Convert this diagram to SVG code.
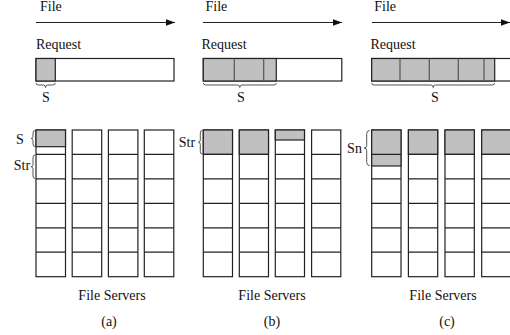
<svg xmlns="http://www.w3.org/2000/svg" width="510" height="335" viewBox="0 0 510 335">
<defs>
<marker id="ah" markerWidth="10" markerHeight="8" refX="9" refY="4" orient="auto" markerUnits="userSpaceOnUse">
<path d="M0,0.8 L9,4 L0,7.2 Z" fill="#111"/>
</marker>
<style>
text{font-family:"Liberation Serif","Times New Roman",serif;font-size:14px;fill:#111}
.mid{text-anchor:middle}
.cell{fill:#fff;stroke:#222;stroke-width:1.2}
.g{fill:#c0c0c0;stroke:#222;stroke-width:1.2}
.div{stroke:#555;stroke-width:1.2;fill:none}
.brace{fill:none;stroke:#555;stroke-width:1}
.arr{stroke:#222;stroke-width:1.2;fill:none}
</style>
</defs>
<rect width="510" height="335" fill="#fff"/>

<g id="connectors">
<line class="arr" x1="36" y1="22.5" x2="175" y2="22.5" marker-end="url(#ah)"/>
<line class="arr" x1="203" y1="22.5" x2="342" y2="22.5" marker-end="url(#ah)"/>
<line class="arr" x1="372" y1="22.5" x2="510" y2="22.5" marker-end="url(#ah)"/>
</g>

<!-- Panel (a) -->
<g id="panel-a">
<text x="40" y="11">File</text>
<text x="36" y="49">Request</text>
<rect class="cell" x="36" y="58.5" width="138" height="22.5"/>
<rect class="g" x="36" y="58.5" width="19.3" height="22.5"/>
<path class="brace" d="M36,83 Q36,85 38.5,85 L43.5,85 Q45.6,85 45.6,87.5 Q45.6,85 47.7,85 L52.8,85 Q55.3,85 55.3,83"/>
<text class="mid" x="46" y="102">S</text>
<g id="grid-a">
<rect class="cell" x="36" y="130" width="29.5" height="146.7"/>
<rect class="cell" x="72.2" y="130" width="29.5" height="146.7"/>
<rect class="cell" x="108.4" y="130" width="29.5" height="146.7"/>
<rect class="cell" x="144.3" y="130" width="29.5" height="146.7"/>
<rect class="g" x="36" y="130" width="29.5" height="16.7"/>
<path class="cell" d="M36,154.4H65.5M36,178.9H65.5M36,203.3H65.5M36,227.8H65.5M36,252.2H65.5
M72.2,154.4H101.7M72.2,178.9H101.7M72.2,203.3H101.7M72.2,227.8H101.7M72.2,252.2H101.7
M108.4,154.4H137.9M108.4,178.9H137.9M108.4,203.3H137.9M108.4,227.8H137.9M108.4,252.2H137.9
M144.3,154.4H173.8M144.3,178.9H173.8M144.3,203.3H173.8M144.3,227.8H173.8M144.3,252.2H173.8"/>
</g>
<path class="brace" d="M35,130.5 Q33,130.5 33,133 L33,136.5 Q33,138.5 31,138.5 Q33,138.5 33,140.5 L33,144 Q33,146.5 35,146.5"/>
<text class="mid" x="20" y="143.5">S</text>
<path class="brace" d="M35,155 Q33,155 33,157.5 L33,164.5 Q33,166.7 31,166.7 Q33,166.7 33,169 L33,176 Q33,178.5 35,178.5"/>
<text class="mid" x="22" y="170">Str</text>
<text class="mid" x="112" y="300">File Servers</text>
<text class="mid" x="109" y="326">(a)</text>
</g>

<!-- Panel (b) -->
<g id="panel-b">
<text x="205.5" y="11">File</text>
<text x="201.5" y="49">Request</text>
<rect class="cell" x="203.3" y="58.5" width="138.5" height="22.5"/>
<rect class="g" x="203.3" y="58.5" width="73" height="22.5"/>
<path class="div" d="M234.3,58.5V81M263.7,58.5V81"/>
<path class="brace" d="M203.3,83 Q203.3,85 205.8,85 L237.5,85 Q239.8,85 239.8,87.5 Q239.8,85 242.1,85 L273.8,85 Q276.3,85 276.3,83"/>
<text class="mid" x="241" y="102">S</text>
<g id="grid-b">
<rect class="cell" x="203.3" y="130" width="29.2" height="146.7"/>
<rect class="cell" x="239.3" y="130" width="29.2" height="146.7"/>
<rect class="cell" x="275.3" y="130" width="29.2" height="146.7"/>
<rect class="cell" x="311.6" y="130" width="29.2" height="146.7"/>
<rect class="g" x="203.3" y="130" width="29.2" height="24.4"/>
<rect class="g" x="239.3" y="130" width="29.2" height="24.4"/>
<rect class="g" x="275.3" y="130" width="29.2" height="10"/>
<path class="cell" d="M203.3,154.4H232.5M203.3,178.9H232.5M203.3,203.3H232.5M203.3,227.8H232.5M203.3,252.2H232.5
M239.3,154.4H268.5M239.3,178.9H268.5M239.3,203.3H268.5M239.3,227.8H268.5M239.3,252.2H268.5
M275.3,154.4H304.5M275.3,178.9H304.5M275.3,203.3H304.5M275.3,227.8H304.5M275.3,252.2H304.5
M311.6,154.4H340.8M311.6,178.9H340.8M311.6,203.3H340.8M311.6,227.8H340.8M311.6,252.2H340.8"/>
</g>
<path class="brace" d="M202.3,130.5 Q200.3,130.5 200.3,133 L200.3,140 Q200.3,142.2 198.3,142.2 Q200.3,142.2 200.3,144.4 L200.3,151.5 Q200.3,154 202.3,154"/>
<text class="mid" x="187" y="146.5">Str</text>
<text class="mid" x="272" y="300">File Servers</text>
<text class="mid" x="272" y="326">(b)</text>
</g>

<!-- Panel (c) -->
<g id="panel-c">
<text x="374.3" y="11">File</text>
<text x="370.5" y="49">Request</text>
<rect class="cell" x="371.7" y="58.5" width="145" height="22.5"/>
<rect class="g" x="371.7" y="58.5" width="123" height="22.5"/>
<path class="div" d="M400,58.5V81M429.3,58.5V81M458.3,58.5V81M484,58.5V81"/>
<path class="brace" d="M371.7,83 Q371.7,85 374.2,85 L431,85 Q433.2,85 433.2,87.5 Q433.2,85 435.4,85 L492.2,85 Q494.7,85 494.7,83"/>
<text class="mid" x="435" y="102">S</text>
<g id="grid-c">
<rect class="cell" x="371.7" y="130" width="29.3" height="146.7"/>
<rect class="cell" x="408.4" y="130" width="29.3" height="146.7"/>
<rect class="cell" x="445" y="130" width="29.3" height="146.7"/>
<rect class="cell" x="481.7" y="130" width="29.3" height="146.7"/>
<rect class="g" x="371.7" y="130" width="29.3" height="36"/>
<rect class="g" x="408.4" y="130" width="29.3" height="24.4"/>
<rect class="g" x="445" y="130" width="29.3" height="24.4"/>
<rect class="g" x="481.7" y="130" width="29.3" height="24.4"/>
<path class="cell" d="M371.7,154.4H401M371.7,178.9H401M371.7,203.3H401M371.7,227.8H401M371.7,252.2H401
M408.4,154.4H437.7M408.4,178.9H437.7M408.4,203.3H437.7M408.4,227.8H437.7M408.4,252.2H437.7
M445,154.4H474.3M445,178.9H474.3M445,203.3H474.3M445,227.8H474.3M445,252.2H474.3
M481.7,154.4H511M481.7,178.9H511M481.7,203.3H511M481.7,227.8H511M481.7,252.2H511"/>
</g>
<path class="brace" d="M369.7,130.5 Q366.7,130.5 366.7,133.5 L366.7,145.5 Q366.7,148 364.2,148 Q366.7,148 366.7,150.5 L366.7,162.5 Q366.7,165.5 369.7,165.5"/>
<text class="mid" x="354.5" y="153">Sn</text>
<text class="mid" x="443" y="300">File Servers</text>
<text class="mid" x="447" y="326">(c)</text>
</g>
</svg>
